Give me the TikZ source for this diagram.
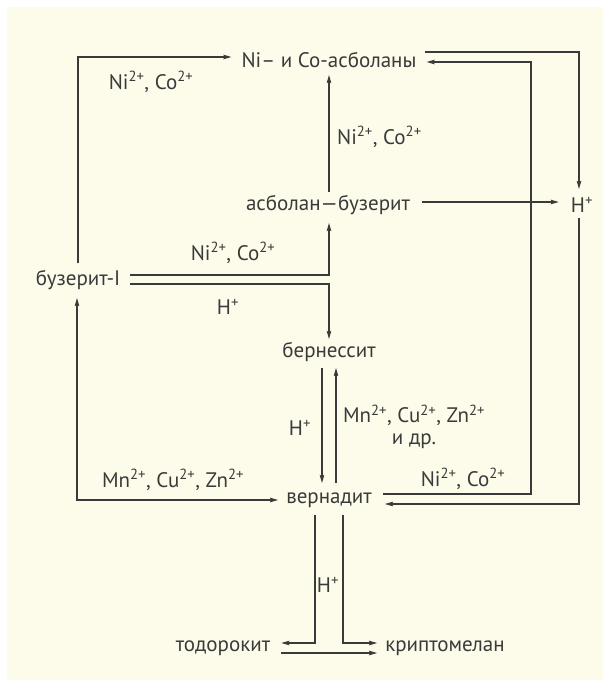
\documentclass[tikz,border=0pt]{standalone}
\usepackage{fontspec}
\setmainfont{PT Sans}
\usetikzlibrary{arrows.meta,calc}
\definecolor{cream}{RGB}{253,251,234}
\definecolor{ink}{RGB}{58,58,58}
\newcommand{\sups}[1]{\textsuperscript{#1}}
\newcommand{\longdash}{\kern-1pt\scalebox{1.4}[1]{–}\kern-1pt}
\begin{document}
\begin{tikzpicture}[x=1pt,y=1pt,
  lbl/.style={inner sep=0pt,text=ink,font=\fontsize{21}{24}\selectfont},
  conn/.style={draw=ink,line width=1.1pt},
  arr/.style={conn,-{Stealth[length=8pt,width=4.5pt,inset=1pt]}},
  darr/.style={conn,{Stealth[length=8pt,width=4.5pt,inset=1pt]}-{Stealth[length=8pt,width=4.5pt,inset=1pt]}}]
\useasboundingbox (0,0) rectangle (603,-688);
\fill[white] (0,0) rectangle (603,-688);
\fill[cream] (7,-7) rectangle (603,-680);
% nodes
\node[lbl] (top) at (329,-60) {Ni– и Co-асболаны};
\node[lbl] (ab) at (328,-205) {асболан\longdash бузерит};
\node[lbl] (buz) at (78,-280) {бузерит-I};
\node[lbl] (bern) at (329,-352) {бернессит};
\node[lbl] (vern) at (329,-500) {вернадит};
\node[lbl] (tod) at (223,-648) {тодорокит};
\node[lbl] (krip) at (445,-648) {криптомелан};
\node[lbl] (hp) at (582,-205) {H\sups{+}};
% helper coordinates
\coordinate (xl) at (77,0);
\coordinate (xm) at (329,0);
\coordinate (xr1) at (531,0);
\coordinate (xr2) at (579,0);
\coordinate (xdl) at (315,0);
\coordinate (xdr) at (343,0);
\coordinate (xbl) at (322,0);
\coordinate (xbr) at (336,0);
% anchor points
\coordinate (topinL) at ([xshift=-10pt,yshift=3pt]top.west);
\coordinate (topoutR) at ([xshift=8pt,yshift=8pt]top.east);
\coordinate (topinR) at ([xshift=10pt,yshift=-2pt]top.east);
\coordinate (topS) at ([yshift=-15pt]top.center);
\coordinate (abN) at ([yshift=13pt]ab.center);
\coordinate (abS) at ([yshift=-18pt]ab.center);
\coordinate (abE) at ([xshift=12pt,yshift=3pt]ab.east);
\coordinate (hpW) at ([xshift=-12pt,yshift=3pt]hp.west);
\coordinate (hpN) at ([yshift=16pt]hp.center);
\coordinate (hpS) at ([yshift=-13pt]hp.center);
\coordinate (buzN) at ([yshift=17pt]buz.center);
\coordinate (buzS) at ([yshift=-18pt]buz.center);
\coordinate (buzE1) at ([xshift=10pt,yshift=5pt]buz.east);
\coordinate (buzE2) at ([xshift=10pt,yshift=-4pt]buz.east);
\coordinate (bernN) at ([yshift=13pt]bern.center);
\coordinate (bernS) at ([yshift=-16pt]bern.center);
\coordinate (vernN) at ([yshift=17pt]vern.center);
\coordinate (vernS) at ([yshift=-15pt]vern.center);
\coordinate (vernW) at ([xshift=-8pt]vern.west);
\coordinate (vernE1) at ([xshift=11pt,yshift=6pt]vern.east);
\coordinate (vernE2) at ([xshift=13pt,yshift=-4pt]vern.east);
\coordinate (todE1) at ([xshift=11pt,yshift=5pt]tod.east);
\coordinate (todE2) at ([xshift=11pt,yshift=-5pt]tod.east);
\coordinate (kripW1) at ([xshift=-8pt,yshift=5pt]krip.west);
\coordinate (kripW2) at ([xshift=-8pt,yshift=-5pt]krip.west);
% connectors
\draw[arr] (buzN) |- (topinL);
\draw[arr] (topoutR) -| (xr2 |- hpN);
\draw[arr] (vernE1) -| (xr1 |- topinR) -- (topinR);
\draw[arr] (xm |- abN) -- (xm |- topS);
\draw[arr] (abE) -- (hpW);
\draw[arr] (xr2 |- hpS) |- (vernE2);
\draw[arr] (buzE1) -| (xm |- abS);
\draw[arr] (buzE2) -| (xm |- bernN);
\draw[darr] (xl |- buzS) |- (vernW);
\draw[arr] (xbl |- bernS) -- (xbl |- vernN);
\draw[arr] (xbr |- vernN) -- (xbr |- bernS);
\draw[arr] (xdl |- vernS) |- (todE1);
\draw[arr] (xdr |- vernS) |- (kripW1);
\draw[arr] (todE2) -- (kripW2);
% labels
\node[lbl] (l1) at (151,-82) {Ni\sups{2+}, Co\sups{2+}};
\node[lbl,anchor=west] (l2) at (337,-137) {Ni\sups{2+}, Co\sups{2+}};
\node[lbl] (l3) at (233,-253) {Ni\sups{2+}, Co\sups{2+}};
\node[lbl] (l4) at (228,-307) {H\sups{+}};
\node[lbl] (l5) at (300,-428) {H\sups{+}};
\node[lbl,align=center] (l6) at (414,-427) {Mn\sups{2+}, Cu\sups{2+}, Zn\sups{2+}\\[-2pt]и др.};
\node[lbl] (l7) at (173,-480) {Mn\sups{2+}, Cu\sups{2+}, Zn\sups{2+}};
\node[lbl] (l8) at (463,-479) {Ni\sups{2+}, Co\sups{2+}};
\node[lbl] (l9) at (328,-585) {H\sups{+}};
\end{tikzpicture}
\end{document}
